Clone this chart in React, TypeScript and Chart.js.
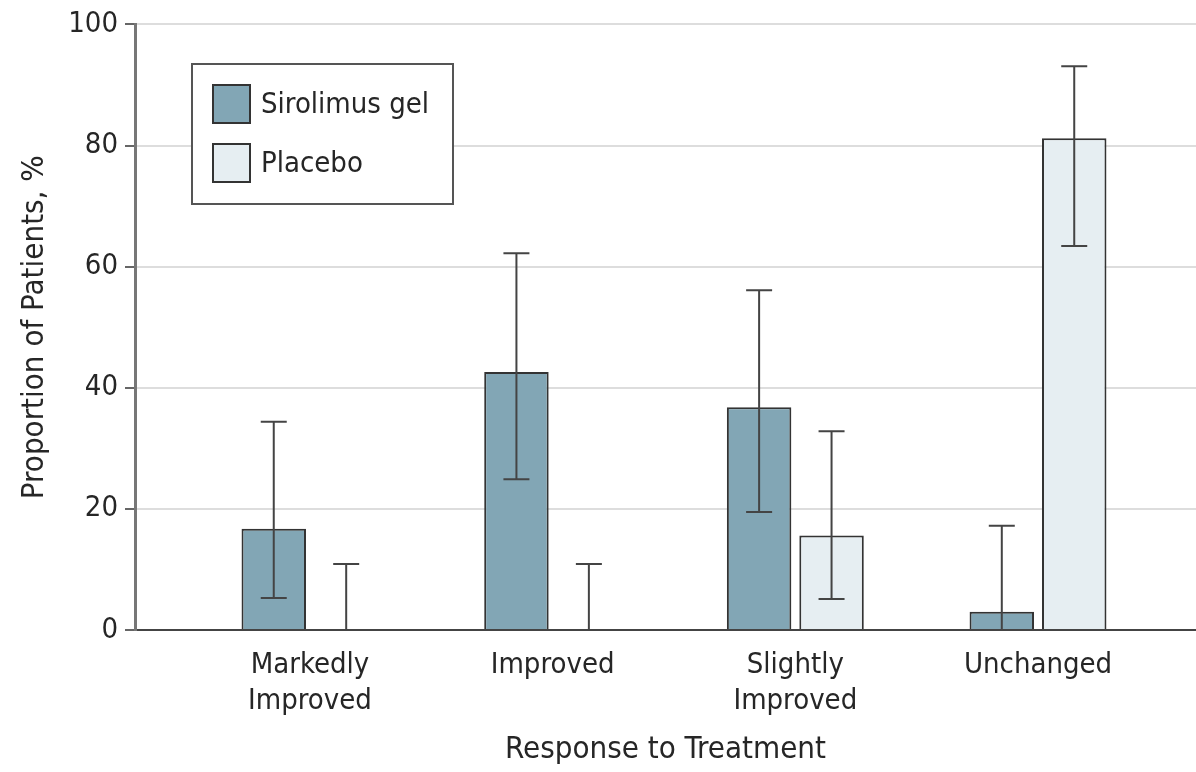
import React, { useEffect, useRef } from "react";
import { Chart, registerables } from "chart.js";

Chart.register(...registerables);

const categories: string[][] = [["Markedly", "Improved"], ["Improved"], ["Slightly", "Improved"], ["Unchanged"]];
const seriesNames = ["Sirolimus gel", "Placebo"];
const sirolimus = [16.7, 42.6, 36.8, 3.0];
const sirolimusLow = [5.3, 24.9, 19.5, 0];
const sirolimusHigh = [34.4, 62.2, 56.1, 17.2];
const placebo = [0, 0, 15.6, 81.2];
const placeboLow = [0, 0, 5.1, 63.4];
const placeboHigh = [10.9, 10.9, 32.8, 93.1];
const yTicks = [0, 20, 40, 60, 80, 100];

const FONT = "'DejaVu Sans Condensed', 'DejaVu Sans', sans-serif";
const TEXT = "#262626";
const FILLS = ["#82a6b5", "#e6eef2"];

const errorBars = {
  id: "errorBars",
  afterDatasetsDraw(chart: any) {
    const { ctx } = chart;
    const lows = [sirolimusLow, placeboLow];
    const highs = [sirolimusHigh, placeboHigh];
    const y = chart.scales.y;
    ctx.save();
    ctx.strokeStyle = "#444";
    ctx.lineWidth = 2;
    chart.data.datasets.forEach((_: any, di: number) => {
      const meta = chart.getDatasetMeta(di);
      meta.data.forEach((bar: any, i: number) => {
        const x = bar.x;
        const yl = y.getPixelForValue(lows[di][i]);
        const yh = y.getPixelForValue(highs[di][i]);
        const cap = 13;
        ctx.beginPath();
        ctx.moveTo(x, yl);
        ctx.lineTo(x, yh);
        ctx.moveTo(x - cap, yh);
        ctx.lineTo(x + cap, yh);
        if (lows[di][i] > 0) {
          ctx.moveTo(x - cap, yl);
          ctx.lineTo(x + cap, yl);
        }
        ctx.stroke();
      });
    });
    ctx.restore();
  },
};

const boxLegend = {
  id: "boxLegend",
  afterDraw(chart: any) {
    const { ctx } = chart;
    ctx.save();
    const bx = 192, by = 64, bw = 261, bh = 140;
    ctx.fillStyle = "#fff";
    ctx.fillRect(bx, by, bw, bh);
    ctx.strokeStyle = "#555";
    ctx.lineWidth = 2;
    ctx.strokeRect(bx, by, bw, bh);
    chart.data.datasets.forEach((ds: any, i: number) => {
      const sy = 85 + i * 59;
      ctx.fillStyle = ds.backgroundColor;
      ctx.fillRect(213, sy, 37, 38);
      ctx.strokeStyle = "#333";
      ctx.lineWidth = 2;
      ctx.strokeRect(213, sy, 37, 38);
      ctx.fillStyle = TEXT;
      ctx.font = `29px ${FONT}`;
      ctx.textBaseline = "middle";
      ctx.textAlign = "left";
      ctx.fillText(ds.label, 261, sy + 20);
    });
    ctx.restore();
  },
};

export default function App() {
  const ref = useRef<HTMLCanvasElement>(null);
  useEffect(() => {
    const chart = new Chart(ref.current!, {
      type: "bar",
      data: {
        datasets: [
          {
            label: seriesNames[0],
            data: sirolimus.map((v, i) => ({ x: i, y: v })),
            backgroundColor: FILLS[0],
            borderColor: "#333",
            borderWidth: 2,
          },
          {
            label: seriesNames[1],
            data: placebo.map((v, i) => ({ x: i, y: v })),
            backgroundColor: FILLS[1],
            borderColor: "#333",
            borderWidth: 2,
          },
        ],
      },
      options: {
        animation: false,
        responsive: true,
        maintainAspectRatio: false,
        categoryPercentage: 0.597,
        barPercentage: 0.89,
        layout: { padding: { top: 0, right: 0, left: 0, bottom: 0 } },
        plugins: { legend: { display: false }, tooltip: { enabled: false } },
        scales: {
          x: {
            type: "linear",
            offset: false,
            min: -0.721,
            max: 3.651,
            afterBuildTicks: (s: any) => {
              s.ticks = categories.map((_, i) => ({ value: i }));
            },
            afterFit: (s: any) => {
              s.height = 142;
            },
            grid: { display: false, drawTicks: false },
            border: { display: false },
            ticks: {
              autoSkip: false,
              maxRotation: 0,
              padding: 17,
              color: TEXT,
              font: { family: FONT, size: 29, lineHeight: 1.25 },
              callback: (v: any) => categories[v] ?? "",
            },
            title: {
              display: true,
              text: "Response to Treatment",
              color: TEXT,
              font: { family: FONT, size: 31 },
              padding: { top: 4, bottom: 3 },
            },
          },
          y: {
            min: 0,
            max: 100,
            afterBuildTicks: (s: any) => {
              s.ticks = yTicks.map((v) => ({ value: v }));
            },
            afterFit: (s: any) => {
              s.width = 135;
            },
            grid: {
              color: (c: any) => (c.tick && c.tick.value === 0 ? "#444" : "#dddddd"),
              lineWidth: 2,
              tickColor: "#666",
              tickLength: 10,
            },
            border: { color: "#777", width: 3 },
            ticks: {
              padding: 7,
              color: TEXT,
              font: { family: FONT, size: 29 },
            },
            title: {
              display: true,
              text: "Proportion of Patients, %",
              color: TEXT,
              font: { family: FONT, size: 31 },
              padding: { top: 16, bottom: 0 },
            },
          },
        },
      },
      plugins: [errorBars, boxLegend],
    } as any);
    return () => chart.destroy();
  }, []);
  return (
    <div style={{ position: "fixed", left: 0, top: 0, width: 1196, height: 772, background: "#fff" }}>
      <canvas ref={ref} />
    </div>
  );
}
